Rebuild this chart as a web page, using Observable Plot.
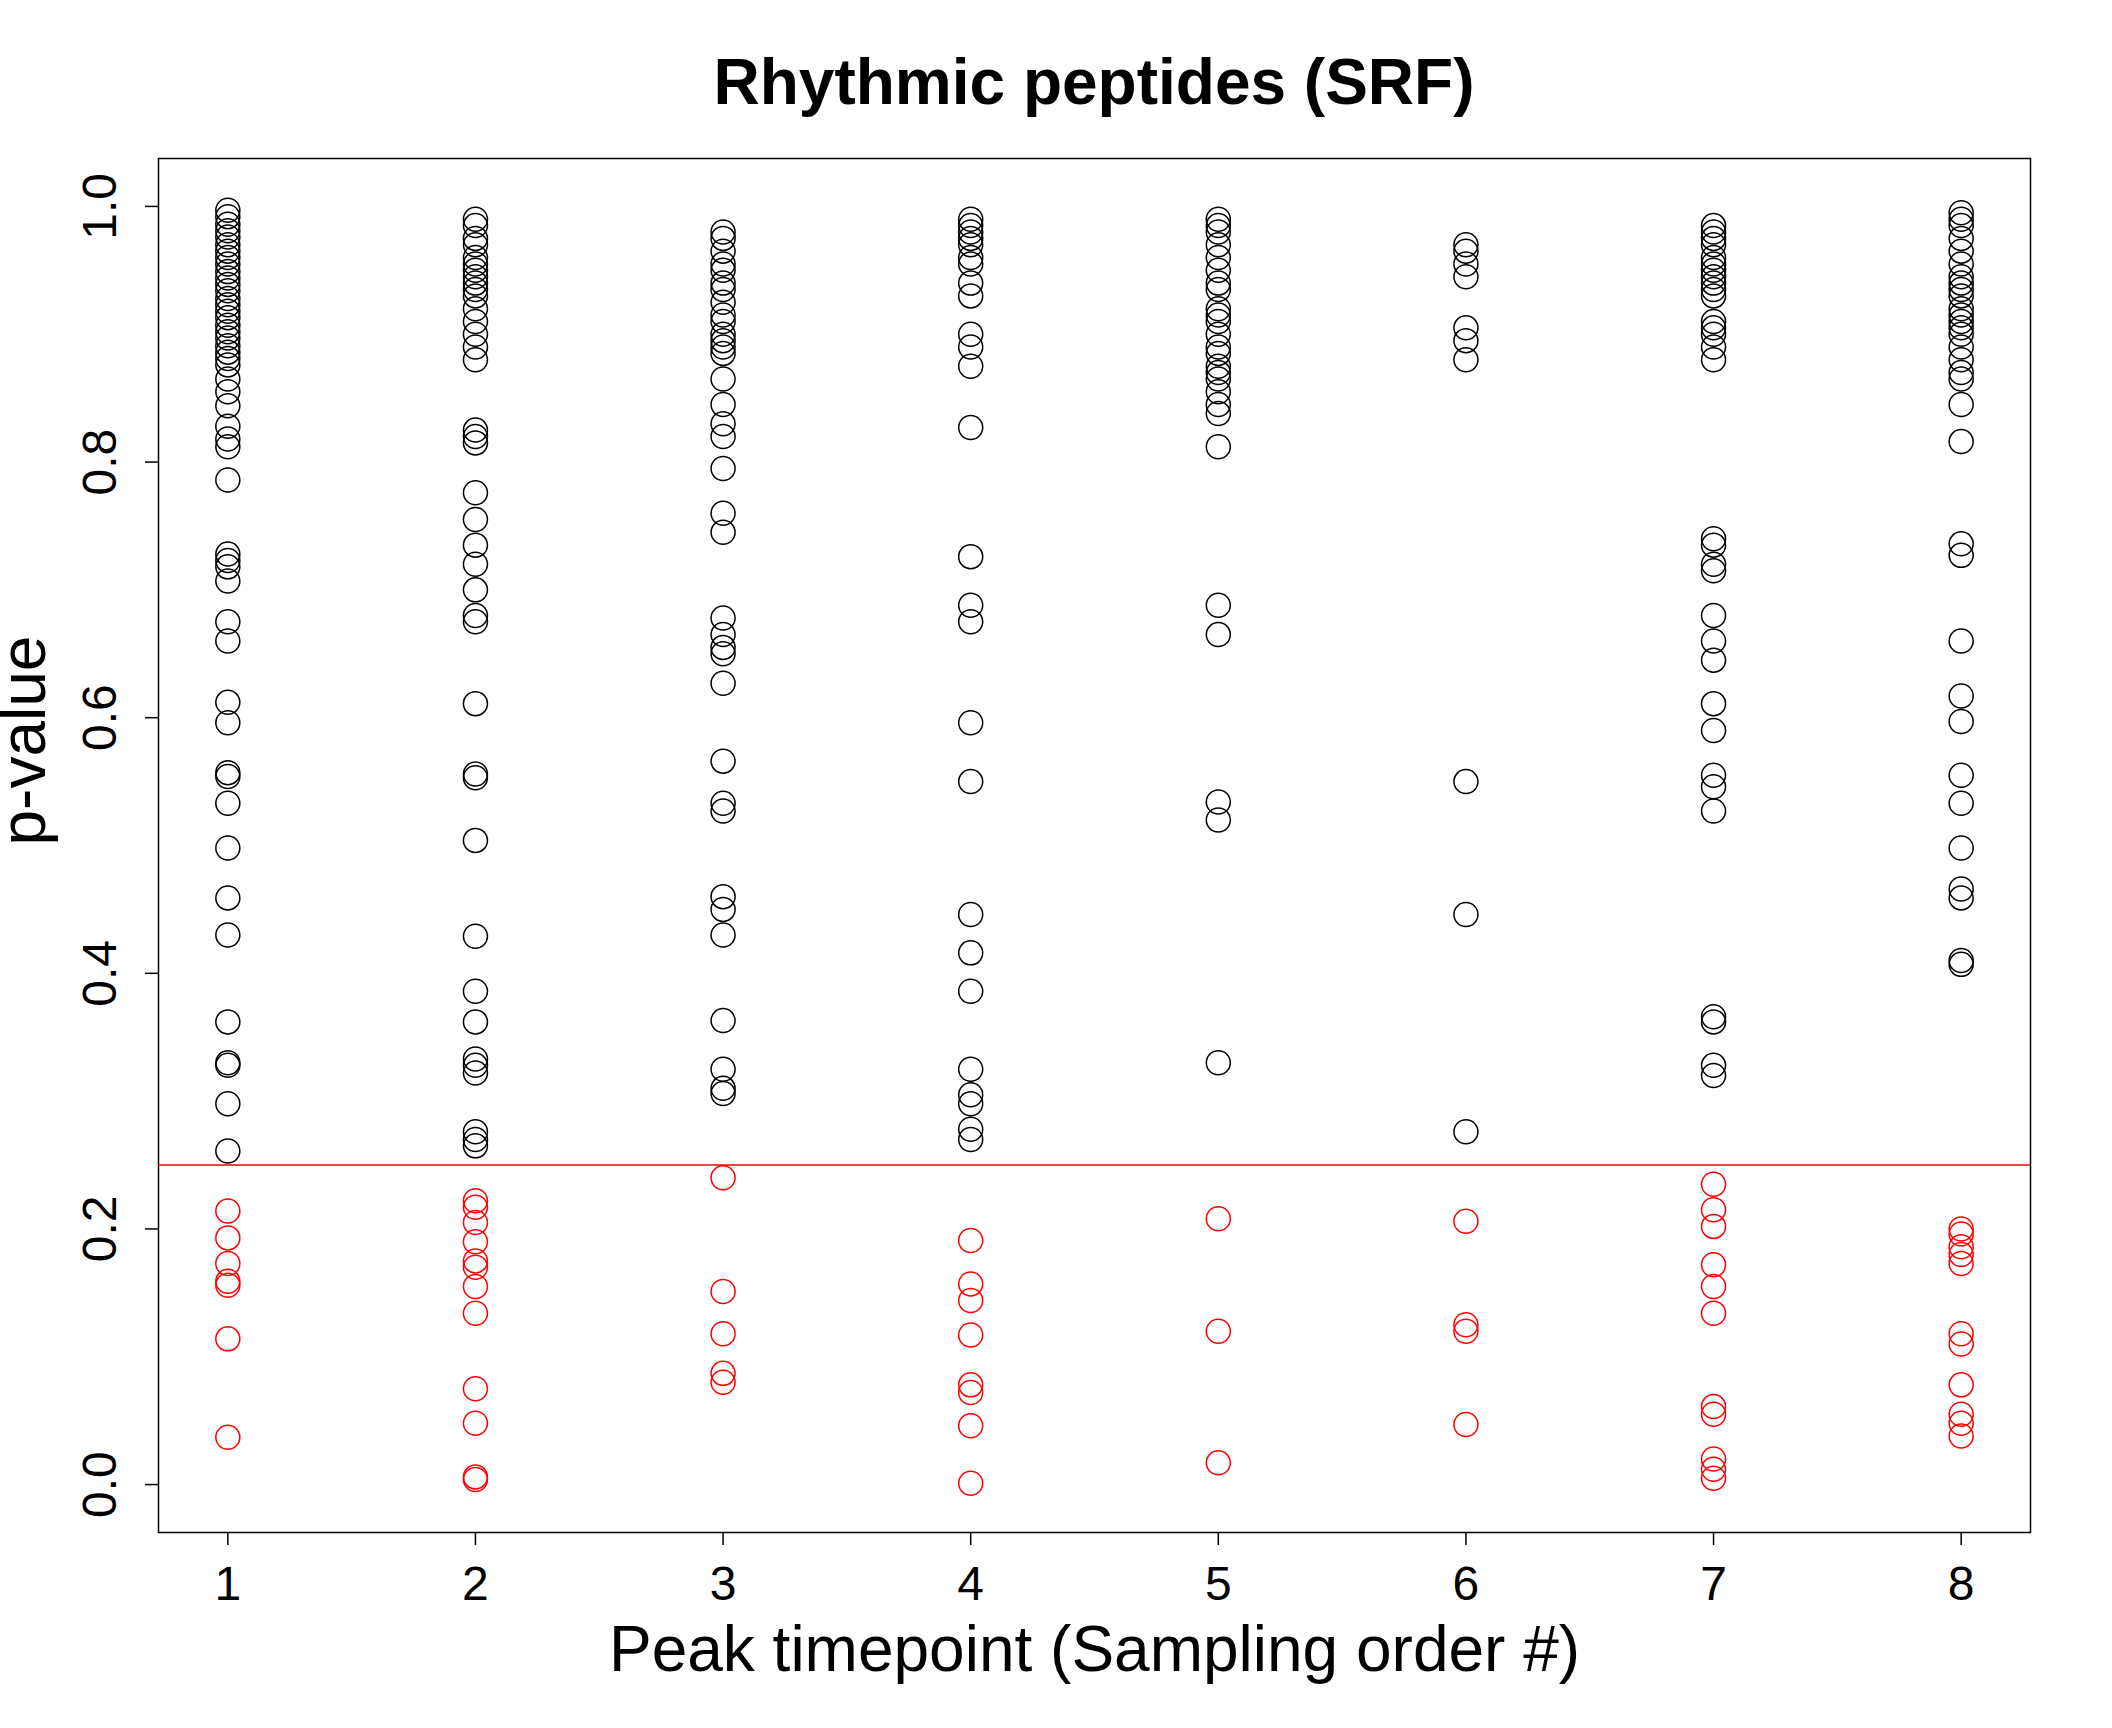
<!DOCTYPE html>
<html>
<head>
<meta charset="utf-8">
<script src="https://cdn.jsdelivr.net/npm/d3@7"></script>
<script src="https://cdn.jsdelivr.net/npm/@observablehq/plot@0.6"></script>
<style>
  body { margin: 0; background: white; font-family: "Liberation Sans", Arial, sans-serif; }
  #title { height: 120px; line-height: 164px; text-align: center; font-weight: bold; font-size: 64px; padding-left: 76px; }
</style>
</head>
<body>
<div id="title">Rhythmic peptides (SRF)</div>
<div id="chart"></div>
<script>
// p-values by peak timepoint
const tp1 = [0.997,0.992,0.986,0.981,0.976,0.970,0.965,0.960,0.955,0.949,0.944,0.939,0.934,0.928,0.923,0.918,0.913,0.907,0.902,0.897,0.891,0.886,0.881,0.876,0.865,0.855,0.844,0.828,0.818,0.812,0.786,0.728,0.723,0.718,0.707,0.675,0.660,0.612,0.596,0.557,0.554,0.533,0.498,0.459,0.430,0.362,0.330,0.328,0.298,0.261,0.214,0.193,0.173,0.159,0.156,0.114,0.037];
const tp2 = [0.99,0.985,0.975,0.97,0.96,0.955,0.95,0.945,0.94,0.935,0.93,0.92,0.91,0.90,0.89,0.88,0.825,0.82,0.815,0.776,0.755,0.735,0.72,0.70,0.68,0.675,0.611,0.556,0.553,0.504,0.429,0.386,0.362,0.333,0.328,0.322,0.276,0.27,0.265,0.222,0.217,0.205,0.19,0.175,0.17,0.155,0.134,0.075,0.048,0.006,0.004];
const tp3 = [0.98,0.975,0.965,0.955,0.95,0.94,0.935,0.925,0.915,0.91,0.90,0.895,0.89,0.885,0.865,0.845,0.83,0.82,0.795,0.76,0.745,0.678,0.665,0.655,0.65,0.627,0.566,0.533,0.527,0.46,0.45,0.43,0.363,0.325,0.31,0.306,0.24,0.151,0.118,0.087,0.08];
const tp4 = [0.99,0.985,0.98,0.975,0.97,0.96,0.955,0.94,0.93,0.90,0.89,0.875,0.827,0.726,0.688,0.675,0.596,0.55,0.446,0.416,0.386,0.325,0.305,0.298,0.278,0.27,0.191,0.157,0.144,0.117,0.078,0.072,0.046,0.001];
const tp5 = [0.99,0.985,0.98,0.97,0.96,0.95,0.94,0.935,0.92,0.915,0.91,0.9,0.89,0.885,0.875,0.87,0.865,0.855,0.845,0.838,0.812,0.688,0.665,0.534,0.52,0.33,0.208,0.12,0.017];
const tp6 = [0.97,0.965,0.955,0.945,0.905,0.895,0.88,0.55,0.446,0.276,0.206,0.125,0.12,0.047];
const tp7 = [0.985,0.98,0.975,0.97,0.96,0.955,0.95,0.945,0.94,0.935,0.93,0.91,0.905,0.9,0.89,0.88,0.74,0.735,0.72,0.715,0.68,0.66,0.645,0.611,0.59,0.555,0.546,0.527,0.366,0.362,0.328,0.32,0.235,0.215,0.202,0.172,0.155,0.134,0.061,0.055,0.02,0.012,0.005];
const tp8 = [0.995,0.99,0.985,0.975,0.965,0.955,0.945,0.94,0.935,0.93,0.92,0.915,0.91,0.905,0.9,0.89,0.88,0.87,0.865,0.845,0.816,0.736,0.727,0.66,0.617,0.597,0.555,0.533,0.498,0.466,0.459,0.41,0.407,0.2,0.196,0.186,0.18,0.173,0.118,0.11,0.078,0.055,0.048,0.038];
const timepoints = [1, 2, 3, 4, 5, 6, 7, 8];
const yTicks = [0, 0.2, 0.4, 0.6, 0.8, 1.0];
const cutoff = 0.25;

const series = [tp1, tp2, tp3, tp4, tp5, tp6, tp7, tp8];
const points = series.flatMap((vals, i) => vals.map(p => ({ t: timepoints[i], p })));

const plot = Plot.plot({
  width: 2112,
  height: 1608,
  marginTop: 38,
  marginBottom: 196,
  marginLeft: 158,
  marginRight: 82,
  style: { fontFamily: "Liberation Sans, Arial, sans-serif", background: "white" },
  x: { domain: [0.72, 8.28] },
  y: { domain: [-0.0375, 1.0375] },
  marks: [
    Plot.frame({ stroke: "black", strokeWidth: 1.5 }),
    Plot.ruleY([cutoff], { stroke: "red", strokeWidth: 1.5 }),
    Plot.dot(points, {
      x: "t", y: "p", r: 12, strokeWidth: 1.5,
      stroke: d => d.p < cutoff ? "red" : "black"
    }),
    Plot.axisX(timepoints, {
      tickSize: 13, tickPadding: 20, fontSize: 48, strokeWidth: 1.5,
      tickFormat: d => String(d), label: null
    }),
    Plot.axisY(yTicks, {
      tickSize: 13, tickPadding: 30, fontSize: 48, strokeWidth: 1.5,
      tickRotate: -90, textAnchor: "middle",
      tickFormat: d => d.toFixed(1), label: null
    }),
    Plot.text(["Peak timepoint (Sampling order #)"], {
      frameAnchor: "bottom", dy: 138, fontSize: 64, fill: "black"
    }),
    Plot.text(["p-value"], {
      frameAnchor: "left", dx: -134, rotate: -90, fontSize: 64, fill: "black"
    })
  ]
});
document.getElementById("chart").appendChild(plot);
</script>
</body>
</html>
